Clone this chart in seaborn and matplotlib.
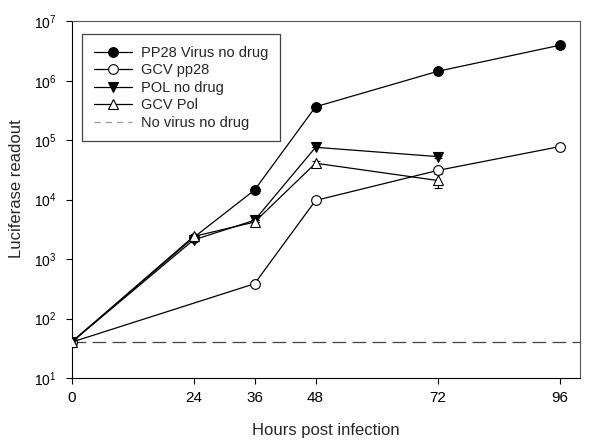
import numpy as np
import pandas as pd
import matplotlib
matplotlib.use("Agg")
import matplotlib.pyplot as plt
import seaborn as sns

# ---- data ----
pp28_hours = [0, 24, 36, 48, 72, 96]
pp28_vals = [40, 2300, 14500, 365000, 1440000, 3950000]
pp28_err = [0, 0, 0, 0, 0, 400000]

gcvpp28_hours = [0, 36, 48, 72, 96]
gcvpp28_vals = [40, 385, 9700, 31000, 78000]
gcvpp28_err = [0, 0, 0, 0, 0]

pol_hours = [0, 24, 36, 48, 72]
pol_vals = [40, 2100, 4500, 76000, 53000]
pol_err = [0, 0, 0, 0, 3000]

gcvpol_hours = [0, 24, 36, 48, 72]
gcvpol_vals = [40, 2400, 4200, 41000, 21000]
gcvpol_err = [0, 0, 0, 4000, 5500]

baseline_value = 40

labels = ["PP28 Virus no drug", "GCV pp28", "POL no drug", "GCV Pol", "No virus no drug"]
x_ticks = [0, 24, 36, 48, 72, 96]

sns.set_style("ticks")
plt.rcParams['font.family'] = ['Liberation Sans', 'DejaVu Sans']
plt.rcParams['mathtext.fontset'] = 'custom'
plt.rcParams['mathtext.rm'] = 'Liberation Sans'
plt.rcParams['mathtext.it'] = 'Liberation Sans:italic'
plt.rcParams['mathtext.bf'] = 'Liberation Sans:bold'

fig = plt.figure(figsize=(6.0, 4.48), dpi=100)
ax = fig.add_axes([71.5/600, 1-378/448, (580-71.5)/600, (378-21.3)/448])

series = [
    (pp28_hours, pp28_vals, pp28_err, labels[0], "o", "black", "black"),
    (gcvpp28_hours, gcvpp28_vals, gcvpp28_err, labels[1], "o", "white", "black"),
    (pol_hours, pol_vals, pol_err, labels[2], "v", "black", "black"),
    (gcvpol_hours, gcvpol_vals, gcvpol_err, labels[3], "^", "white", "black"),
]

handles = []
for hrs, vals, err, lab, mk, fc, ec in series:
    df = pd.DataFrame({"h": hrs, "v": vals, "e": err})
    ax.errorbar(df["h"], df["v"], yerr=df["e"], fmt="none", ecolor="black",
                elinewidth=0.8, capsize=3, capthick=0.8, zorder=2)
    sns.lineplot(data=df, x="h", y="v", ax=ax, color="black", linewidth=0.9,
                 marker=mk, markersize=7, markerfacecolor=fc,
                 markeredgecolor=ec, markeredgewidth=0.8, label=lab,
                 legend=False, zorder=3)
    handles.append(plt.Line2D([], [], color="black", linewidth=0.9, marker=mk,
                              markersize=7, markerfacecolor=fc,
                              markeredgecolor=ec, markeredgewidth=0.8))

base_df = pd.DataFrame({"h": [0, 100], "v": [baseline_value, baseline_value]})
sns.lineplot(data=base_df, x="h", y="v", ax=ax, color="#444444", linewidth=0.9,
             dashes=False, zorder=1)
ax.lines[-1].set_dashes([11, 5])
handles.append(plt.Line2D([], [], color="#999999", linewidth=0.9, dashes=[5, 4]))

ax.set_yscale("log")
ax.set_ylim(10, 1e7)
ax.set_xlim(0, 100)
ax.set_xticks(x_ticks)
ax.set_xticklabels([str(t) for t in x_ticks])
ax.yaxis.set_minor_locator(matplotlib.ticker.NullLocator())
ax.tick_params(axis="both", which="major", direction="out", length=4.5, width=0.8,
               colors="black")
ax.tick_params(axis="x", pad=5, labelsize=11)
ax.tick_params(axis="y", pad=6, labelsize=10)

for s in ["left", "bottom"]:
    ax.spines[s].set_color("black")
    ax.spines[s].set_linewidth(0.8)
for s in ["top", "right"]:
    ax.spines[s].set_visible(True)
    ax.spines[s].set_color("#555555")
    ax.spines[s].set_linewidth(0.8)

ax.set_xlabel("Hours post infection", fontsize=12, labelpad=13)
ax.set_ylabel("Luciferase readout", fontsize=12)
ax.yaxis.set_label_coords((24 - 71.5) / 508.5, (378 - 189) / 356.7)

leg = ax.legend(handles, labels, loc="upper left",
                bbox_to_anchor=((82-71.5)/508.5, (378-34)/356.7),
                borderaxespad=0, fontsize=10.5, frameon=True, fancybox=False,
                handlelength=2.6, handletextpad=0.65, labelspacing=0.24,
                borderpad=0.8)
leg.get_frame().set_edgecolor("#444444")
leg.get_frame().set_linewidth(0.9)
leg.get_frame().set_alpha(1)

fig.savefig("out.png", dpi=100)
